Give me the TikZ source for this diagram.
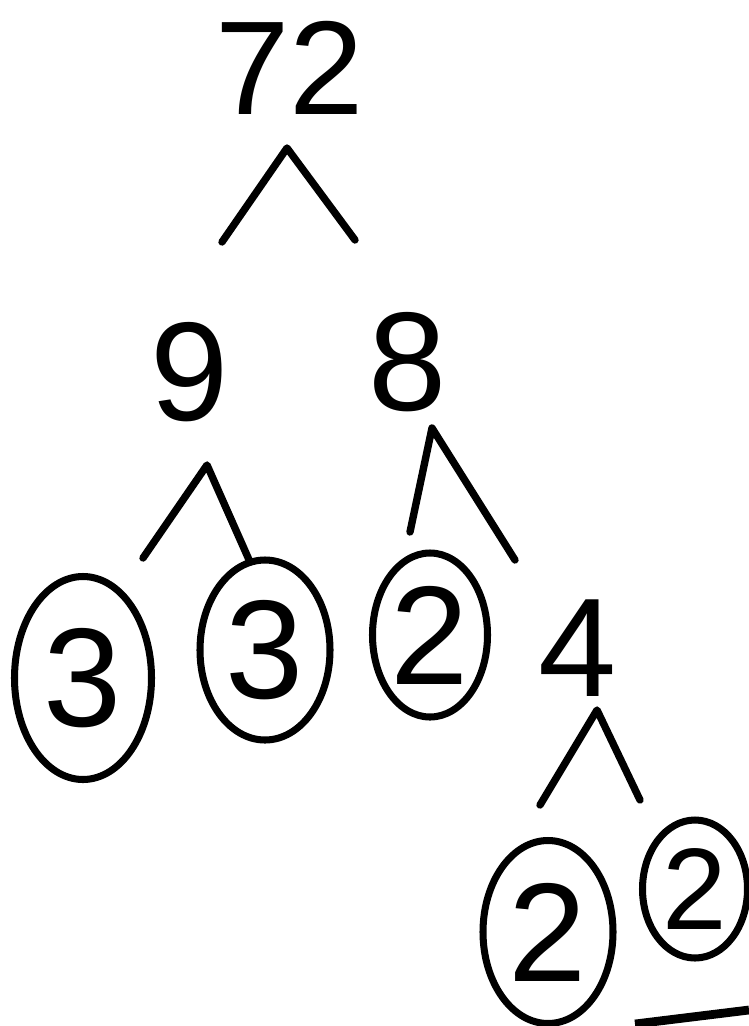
\documentclass[tikz,border=0pt]{standalone}
\usepackage{fontspec}
\setmainfont{Liberation Sans}
\usepackage{tikz}
\usetikzlibrary{arrows.meta,calc,positioning,shapes.geometric}
\definecolor{Ink}{HTML}{000000}
\tikzset{
  branch/.style={line width=4.2pt,draw=Ink,line cap=round,line join=round},
  num/.style={inner sep=0pt,text=Ink,font=\fontsize{80}{80}\selectfont},
  prime/.style={num,ellipse,draw=Ink,line width=4pt},
}

\begin{document}
\begin{tikzpicture}[x=0.2mm,y=-0.2mm]
        \useasboundingbox (0,0) rectangle (749,1026);
        % numbers
        \node[num,font=\fontsize{76}{76}\selectfont] (n72) at (290,68) {72};
        \node[num] (n9) at (190,372) {9};
        \node[num] (n8) at (408,362) {8};
        \node[num] (n4) at (578,648) {4};
        % circled primes
        \node[prime,minimum width=27.4mm,minimum height=40.6mm] (a3) at (83,678) {3};
        \node[prime,minimum width=26mm,minimum height=36mm] (b3) at (265,650) {3};
        \node[prime,minimum width=23mm,minimum height=32.8mm] (c2) at (430,635) {2};
        \node[prime,minimum width=26mm,minimum height=36.6mm] (d2) at (548,932) {2};
        \node[prime,minimum width=21mm,minimum height=27.6mm,font=\fontsize{66}{66}\selectfont] (e2) at (695,889) {2};
        % branches
        \coordinate (p72) at (287,148);
        \coordinate (l72) at (222,242);
        \coordinate (r72) at (355,240);
        \coordinate (p9) at (207,465);
        \coordinate (l9) at (143,558);
        \coordinate (r9) at (250,562);
        \coordinate (p8) at (432,428);
        \coordinate (l8) at (410,532);
        \coordinate (r8) at (515,560);
        \coordinate (p4) at (597,710);
        \coordinate (l4) at (540,805);
        \coordinate (r4) at (640,800);
        \draw[branch] (l72) -- (p72) -- (r72);
        \draw[branch] (l9) -- (p9) -- (r9);
        \draw[branch] (l8) -- (p8) -- (r8);
        \draw[branch] (l4) -- (p4) -- (r4);
        % underline
        \coordinate (u1) at (635,1024);
        \coordinate (u2) at (749,1010);
        \draw[branch,line width=5pt,line cap=butt] (u1) -- (u2);
      \end{tikzpicture}
\end{document}
